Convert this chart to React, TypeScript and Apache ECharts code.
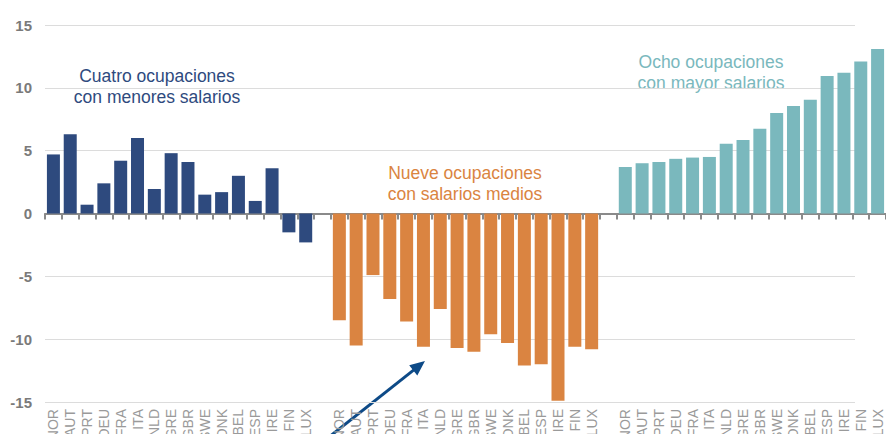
import React, { useEffect, useRef } from "react";
import * as echarts from "echarts";

const countries = ["NOR", "AUT", "PRT", "DEU", "FRA", "ITA", "NLD", "GRE", "GBR", "SWE", "DNK", "BEL", "ESP", "IRE", "FIN", "LUX"];
const lowPay = [4.7, 6.3, 0.7, 2.4, 4.2, 6.0, 1.95, 4.8, 4.1, 1.5, 1.7, 3.0, 1.0, 3.6, -1.5, -2.3];
const midPay = [-8.5, -10.5, -4.9, -6.8, -8.6, -10.6, -7.6, -10.7, -11.0, -9.6, -10.3, -12.1, -12.0, -14.9, -10.6, -10.8];
const highPay = [3.7, 4.0, 4.1, 4.35, 4.45, 4.5, 5.55, 5.85, 6.75, 8.0, 8.55, 9.05, 10.95, 11.2, 12.1, 13.1];
const yTicks = { min: -15, max: 15, interval: 5 };
const lowLabel = "Cuatro ocupaciones\ncon menores salarios";
const midLabel = "Nueve ocupaciones\ncon salarios medios";
const highLabel = "Ocho ocupaciones\ncon mayor salarios";

const BLUE = "#2e4a7e";
const ORANGE = "#da8441";
const TEAL = "#7ab8bd";

export default function App() {
  const ref = useRef<HTMLDivElement>(null);

  useEffect(() => {
    if (!ref.current) return;
    const chart = echarts.init(ref.current, undefined, { renderer: "svg" });

    const categories: string[] = [...countries, "", ...countries, "", ...countries];
    const n = categories.length;
    const empty = () => new Array(n).fill("-") as (number | string)[];
    const s1 = empty();
    const s2 = empty();
    const s3 = empty();
    lowPay.forEach((v, i) => (s1[i] = v));
    midPay.forEach((v, i) => (s2[i + 17] = v));
    highPay.forEach((v, i) => (s3[i + 34] = v));

    const font = "'Liberation Sans', Arial, sans-serif";

    // arrow geometry (annotation)
    const tip = [425, 361];
    const dir = [0.784, -0.622];
    const perp = [0.622, 0.784];
    const hl = 15;
    const hw = 6.5;
    const base = [tip[0] - hl * dir[0], tip[1] - hl * dir[1]];

    chart.setOption({
      animation: false,
      grid: [
        { left: 45, right: 0, top: 25, bottom: 68 },
        { left: 45, width: 810, top: 25, bottom: 68 },
      ],
      xAxis: [
        {
          type: "category",
          gridIndex: 0,
          data: categories,
          boundaryGap: true,
          axisLine: { onZero: true, lineStyle: { color: "#8a8a8a", width: 2 } },
          axisTick: { show: true, interval: 0, length: 6, lineStyle: { color: "#8a8a8a", width: 2 } },
          axisLabel: { show: false },
          splitLine: { show: false },
        },
        {
          type: "category",
          gridIndex: 0,
          data: categories,
          position: "bottom",
          axisLine: { show: false, onZero: false },
          axisTick: { show: false },
          axisLabel: {
            show: true,
            interval: 0,
            rotate: 90,
            margin: 7,
            fontSize: 14,
            color: "#9a9a9a",
            fontFamily: font,
          },
          splitLine: { show: false },
        },
        {
          type: "category",
          gridIndex: 1,
          data: categories,
          show: false,
        },
      ],
      yAxis: [
        {
          type: "value",
          gridIndex: 0,
          min: yTicks.min,
          max: yTicks.max,
          interval: yTicks.interval,
          axisLine: { show: false },
          axisTick: { show: false },
          splitLine: { show: false },
          axisLabel: {
            margin: 13,
            fontSize: 15,
            fontWeight: "bold",
            color: "#7a7a7a",
            fontFamily: font,
          },
        },
        {
          type: "value",
          gridIndex: 1,
          min: yTicks.min,
          max: yTicks.max,
          interval: yTicks.interval,
          axisLine: { show: false },
          axisTick: { show: false },
          axisLabel: { show: false },
          splitLine: { show: true, lineStyle: { color: "#dcdcdc", width: 1 } },
        },
      ],
      series: [
        { type: "bar", xAxisIndex: 0, yAxisIndex: 0, data: s1, barWidth: 13, barGap: "-100%", itemStyle: { color: BLUE } },
        { type: "bar", xAxisIndex: 0, yAxisIndex: 0, data: s2, barWidth: 13, barGap: "-100%", itemStyle: { color: ORANGE } },
        { type: "bar", xAxisIndex: 0, yAxisIndex: 0, data: s3, barWidth: 13, barGap: "-100%", itemStyle: { color: TEAL } },
      ],
      graphic: [
        {
          type: "text",
          x: 157,
          y: 86,
          style: { text: lowLabel, fill: BLUE, font: `17.5px ${font}`, textAlign: "center", textVerticalAlign: "middle", lineHeight: 21 },
        },
        {
          type: "text",
          x: 465,
          y: 183,
          style: { text: midLabel, fill: ORANGE, font: `17.5px ${font}`, textAlign: "center", textVerticalAlign: "middle", lineHeight: 21 },
        },
        {
          type: "text",
          x: 711,
          y: 72.5,
          style: { text: highLabel, fill: TEAL, font: `17.5px ${font}`, textAlign: "center", textVerticalAlign: "middle", lineHeight: 21 },
        },
        {
          type: "line",
          shape: { x1: 300, y1: 460, x2: base[0] + 2 * dir[0], y2: base[1] + 2 * dir[1] },
          style: { stroke: "#0d4a87", lineWidth: 3 },
        },
        {
          type: "polygon",
          shape: {
            points: [
              tip,
              [base[0] + hw * perp[0], base[1] + hw * perp[1]],
              [base[0] - hw * perp[0], base[1] - hw * perp[1]],
            ],
          },
          style: { fill: "#0d4a87" },
        },
      ],
    });

    return () => chart.dispose();
  }, []);

  return (
    <div style={{ position: "fixed", left: 0, top: 0, width: 886, height: 434, overflow: "hidden", background: "#fff" }}>
      <div ref={ref} style={{ width: 886, height: 470 }} />
    </div>
  );
}
